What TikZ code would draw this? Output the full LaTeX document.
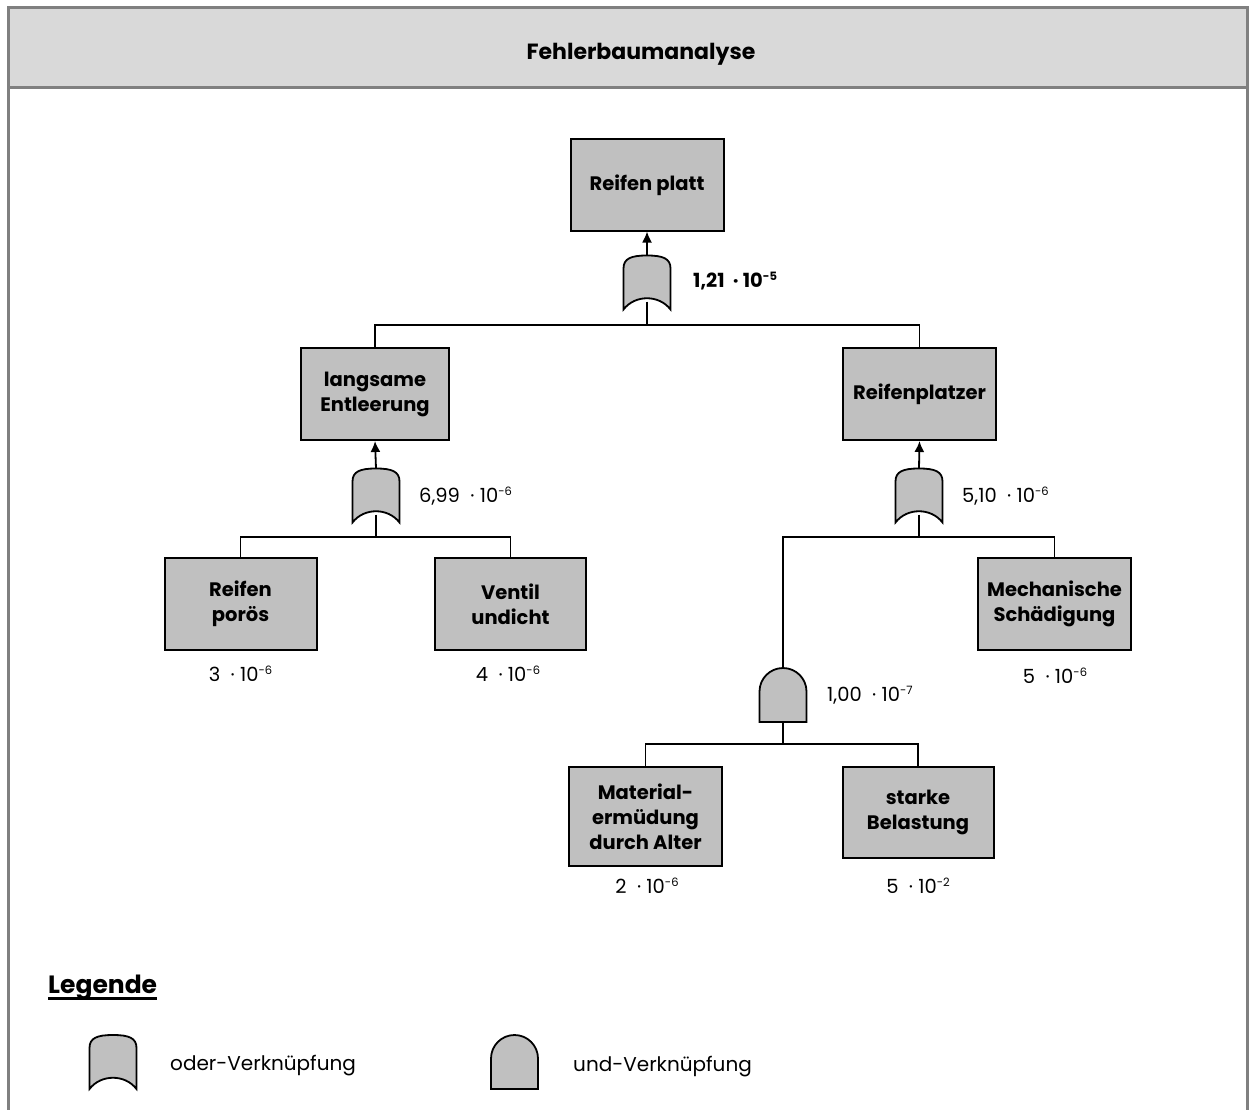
\documentclass[tikz,border=0pt]{standalone}
\usepackage{fontspec}
\setmainfont{Poppins}
\usetikzlibrary{arrows.meta}
\definecolor{framegray}{HTML}{808080}
\definecolor{headfill}{HTML}{D9D9D9}
\definecolor{boxfill}{HTML}{C0C0C0}
% small raised exponent
\newcommand\fbpow[1]{\raisebox{6.3pt}{\fontsize{11.5}{12}\selectfont #1}}
\tikzset{
  event/.style={draw=black, line width=2pt, fill=boxfill, align=center,
    font=\fontsize{19.5}{25}\selectfont\bfseries, inner sep=0pt},
  conn/.style={line width=1.8pt, black},
  uparrow/.style={conn, -{Latex[length=11pt,width=10pt]}},
  gatebody/.style={draw=black, line width=1.8pt, fill=boxfill},
  prob/.style={font=\fontsize{19.5}{22}\selectfont, inner sep=0pt, anchor=base west},
  legtext/.style={font=\fontsize{20}{22}\selectfont, inner sep=0pt, anchor=base west},
  % OR gate: arched top, concave bottom; 47 wide, 54 high
  orgate/.pic={
    \draw[gatebody] (-23.5,27) -- (-23.5,-14)
      .. controls (-23.5,-24) and (-16,-27) .. (0,-27)
      .. controls (16,-27) and (23.5,-24) .. (23.5,-14)
      -- (23.5,27) .. controls (12,12) and (-12,12) .. (-23.5,27) -- cycle;
    \coordinate (-top) at (0,-27);
    \coordinate (-bot) at (0,19);
  },
  % AND gate: flat bottom, semicircular top
  andgate/.pic={
    \draw[gatebody] (-23.5,27) -- (-23.5,-3.5)
      .. controls (-23.5,-16.48) and (-12.98,-27) .. (0,-27)
      .. controls (12.98,-27) and (23.5,-16.48) .. (23.5,-3.5)
      -- (23.5,27) -- cycle;
    \coordinate (-top) at (0,-27);
    \coordinate (-bot) at (0,27);
  },
}
\begin{document}
\begin{tikzpicture}[x=1pt, y=-1pt]
\useasboundingbox (0,0) rectangle (1255,1110);

% frame and header
\fill[headfill] (8.5,7.5) rectangle (1247.5,88);
\draw[framegray, line width=3pt] (8.5,1120) -- (8.5,7.5) -- (1247.5,7.5) -- (1247.5,1120);
\draw[framegray, line width=3pt] (8.5,88) -- (1247.5,88);
\node[font=\fontsize{22}{24}\selectfont\bfseries, anchor=base, inner sep=0pt] (title) at (641,60) {Fehlerbaumanalyse};

% events
\node[event, minimum width=153pt, minimum height=91pt] (top) at (647,185) {Reifen platt};
\node[event, minimum width=148pt, minimum height=92pt] (le) at (375,394) {langsame\\Entleerung};
\node[event, minimum width=153pt, minimum height=92pt] (rp) at (919.5,394) {Reifenplatzer};
\node[event, minimum width=152pt, minimum height=92pt] (rpo) at (240.5,604) {Reifen\\porös};
\node[event, minimum width=151pt, minimum height=92pt] (vu) at (510.5,604) {Ventil\\undicht};
\node[event, minimum width=153pt, minimum height=92pt] (ms) at (1054.5,604) {Mechanische\\Schädigung};
\node[event, minimum width=153pt, minimum height=99pt] (mat) at (645.5,816.5) {Material-\\ermüdung\\durch Alter};
\node[event, minimum width=151pt, minimum height=91pt] (sb) at (918,812.5) {starke\\Belastung};

% gates
\pic (g1) at (647,282.5) {orgate};
\pic (g2) at (376,495.5) {orgate};
\pic (g3) at (919,495.5) {orgate};
\pic (g4) at (783,695) {andgate};

% bus points
\coordinate (b1) at (647,325);
\coordinate (b2) at (376,537);
\coordinate (b3) at (919,537);
\coordinate (b4) at (783,744);

% connectors
\draw[uparrow] (g1-top) -- (top.south);
\draw[conn] (g1-bot) -- (b1);
\draw[conn] (le.north) |- (b1) -| (rp.north);

\draw[uparrow] (g2-top) -- (le.south);
\draw[conn] (g2-bot) -- (b2);
\draw[conn] (rpo.north) |- (b2) -| (vu.north);

\draw[uparrow] (g3-top) -- (rp.south);
\draw[conn] (g3-bot) -- (b3);
\draw[conn] (g4-top) |- (b3) -| (ms.north);

\draw[conn] (g4-bot) -- (b4);
\draw[conn] (mat.north) |- (b4) -| (sb.north);

% probabilities
\node[prob, font=\fontsize{19.5}{22}\selectfont\bfseries] (p1) at (693,287) {1,21\ \ ·\ 10\fbpow{-5}};
\node[prob] (p2) at (419,502) {6,99\ \ ·\ 10\fbpow{-6}};
\node[prob] (p3) at (962,502) {5,10\ \ ·\ 10\fbpow{-6}};
\node[prob] (p4) at (827,701) {1,00\ \ ·\ 10\fbpow{-7}};
\node[prob, anchor=base] (p5) at (240.5,681) {3\ \ ·\ 10\fbpow{-6}};
\node[prob, anchor=base] (p6) at (508,681) {4\ \ ·\ 10\fbpow{-6}};
\node[prob, anchor=base] (p7) at (1055,683) {5\ \ ·\ 10\fbpow{-6}};
\node[prob, anchor=base] (p8) at (647,893) {2\ \ ·\ 10\fbpow{-6}};
\node[prob, anchor=base] (p9) at (918,893) {5\ \ ·\ 10\fbpow{-2}};

% legend
\node[anchor=base west, inner sep=0pt, font=\fontsize{25}{28}\selectfont\bfseries] (leg) at (48,993) {Legende};
\draw[line width=2.2pt] ([yshift=-5.5pt]leg.base west) -- ([yshift=-5.5pt]leg.base east);
\pic (lor) at (113,1062) {orgate};
\node[legtext] (lortext) at (170,1070) {oder-Verknüpfung};
\pic (land) at (514.5,1062) {andgate};
\node[legtext] (landtext) at (573,1071) {und-Verknüpfung};
\end{tikzpicture}
\end{document}
